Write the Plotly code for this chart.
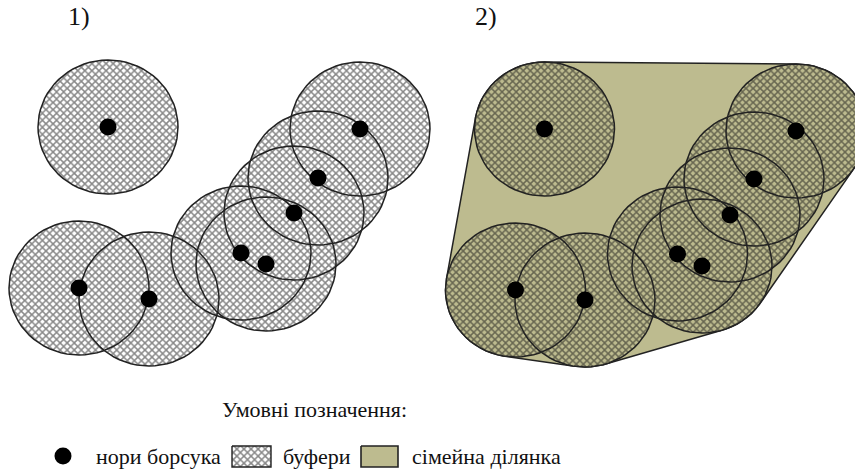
import numpy as np
import plotly.graph_objects as go

# burrow positions
burrow_x_1 = [108, 360, 318, 294, 241, 266, 79, 149]
burrow_y_1 = [127, 129, 178, 213, 253, 264, 288, 299]
burrow_x_2 = [544.5, 796, 754, 730, 677.5, 702, 515.5, 585]
burrow_y_2 = [129, 131, 179, 215, 254, 266, 290, 300]
buffer_rx = 70
buffer_ry = 67
panel_labels = ["1)", "2)"]
legend_title = "Умовні позначення:"
legend_labels = ["нори борсука", "буфери", "сімейна ділянка"]

HATCH = "#111111"
HOME = "#BDBB8F"
FONT = "Liberation Serif"
t = np.linspace(0, 2 * np.pi, 73)


def ring(cx, cy):
    return cx + buffer_rx * np.cos(t), cy + buffer_ry * np.sin(t)


def hull(xs, ys):
    pts = sorted(set(zip(np.round(xs, 3).tolist(), np.round(ys, 3).tolist())))
    def half(seq):
        out = []
        for p in seq:
            while len(out) > 1 and (out[-1][0]-out[-2][0])*(p[1]-out[-2][1]) - (out[-1][1]-out[-2][1])*(p[0]-out[-2][0]) <= 0:
                out.pop()
            out.append(p)
        return out[:-1]
    h = half(pts) + half(pts[::-1])
    h.append(h[0])
    return [p[0] for p in h], [p[1] for p in h]


fig = go.Figure()


def hatch_fill(x, y, bg):
    fig.add_trace(go.Scatter(
        x=x, y=y, mode="lines", fill="toself", line=dict(width=0),
        fillcolor=bg, hoverinfo="skip",
        fillpattern=dict(shape="x", size=5, solidity=0.5, fgcolor=HATCH, bgcolor=bg),
    ))


def outline(x, y, w=1.5):
    fig.add_trace(go.Scatter(x=x, y=y, mode="lines", hoverinfo="skip",
                             line=dict(color="#222222", width=w)))


# panel 2 family range: hull of all the buffers
all_x, all_y = [], []
for cx, cy in zip(burrow_x_2, burrow_y_2):
    rx, ry = ring(cx, cy)
    all_x += rx.tolist()
    all_y += ry.tolist()
hx, hy = hull(all_x, all_y)
fig.add_trace(go.Scatter(x=hx, y=hy, mode="lines", fill="toself", fillcolor=HOME,
                         line=dict(color="#222222", width=1.5), hoverinfo="skip"))

for bx, by, bg in ((burrow_x_1, burrow_y_1, "#ffffff"), (burrow_x_2, burrow_y_2, HOME)):
    for cx, cy in zip(bx, by):
        rx, ry = ring(cx, cy)
        hatch_fill(rx, ry, bg)
    for cx, cy in zip(bx, by):
        rx, ry = ring(cx, cy)
        outline(rx, ry)
    fig.add_trace(go.Scatter(x=bx, y=by, mode="markers", hoverinfo="skip",
                             marker=dict(color="black", size=17)))

# legend
fig.add_trace(go.Scatter(x=[63], y=[456], mode="markers", hoverinfo="skip",
                         marker=dict(color="black", size=17)))
sw_y = [446, 446, 467, 467, 446]
sw1 = [232, 271, 271, 232, 232]
sw2 = [361, 398, 398, 361, 361]
hatch_fill(sw1, sw_y, "#ffffff")
outline(sw1, sw_y, 1.4)
fig.add_trace(go.Scatter(x=sw2, y=sw_y, mode="lines", fill="toself", fillcolor=HOME,
                         line=dict(color="#222222", width=1.6), hoverinfo="skip"))


def text(x, y, s, size=22, anchor="left"):
    fig.add_annotation(x=x, y=y, text=s, showarrow=False, xanchor=anchor, yanchor="middle",
                       font=dict(family=FONT, size=size, color="#111111"))


text(79, 16, panel_labels[0], 26, "center")
text(486, 16, panel_labels[1], 26, "center")
text(314, 409, legend_title, 22, "center")
text(94, 456, legend_labels[0])
text(281, 456, legend_labels[1])
text(410, 456, legend_labels[2])

fig.update_layout(
    width=855, height=470, showlegend=False, margin=dict(l=0, r=0, t=0, b=0),
    paper_bgcolor="white", plot_bgcolor="white",
    xaxis=dict(range=[0, 855], visible=False, fixedrange=True),
    yaxis=dict(range=[470, 0], visible=False, fixedrange=True),
)
fig.write_html("out.html", config=dict(displayModeBar=False),
               post_script="document.body.style.margin='0';document.body.style.overflow='hidden';")
